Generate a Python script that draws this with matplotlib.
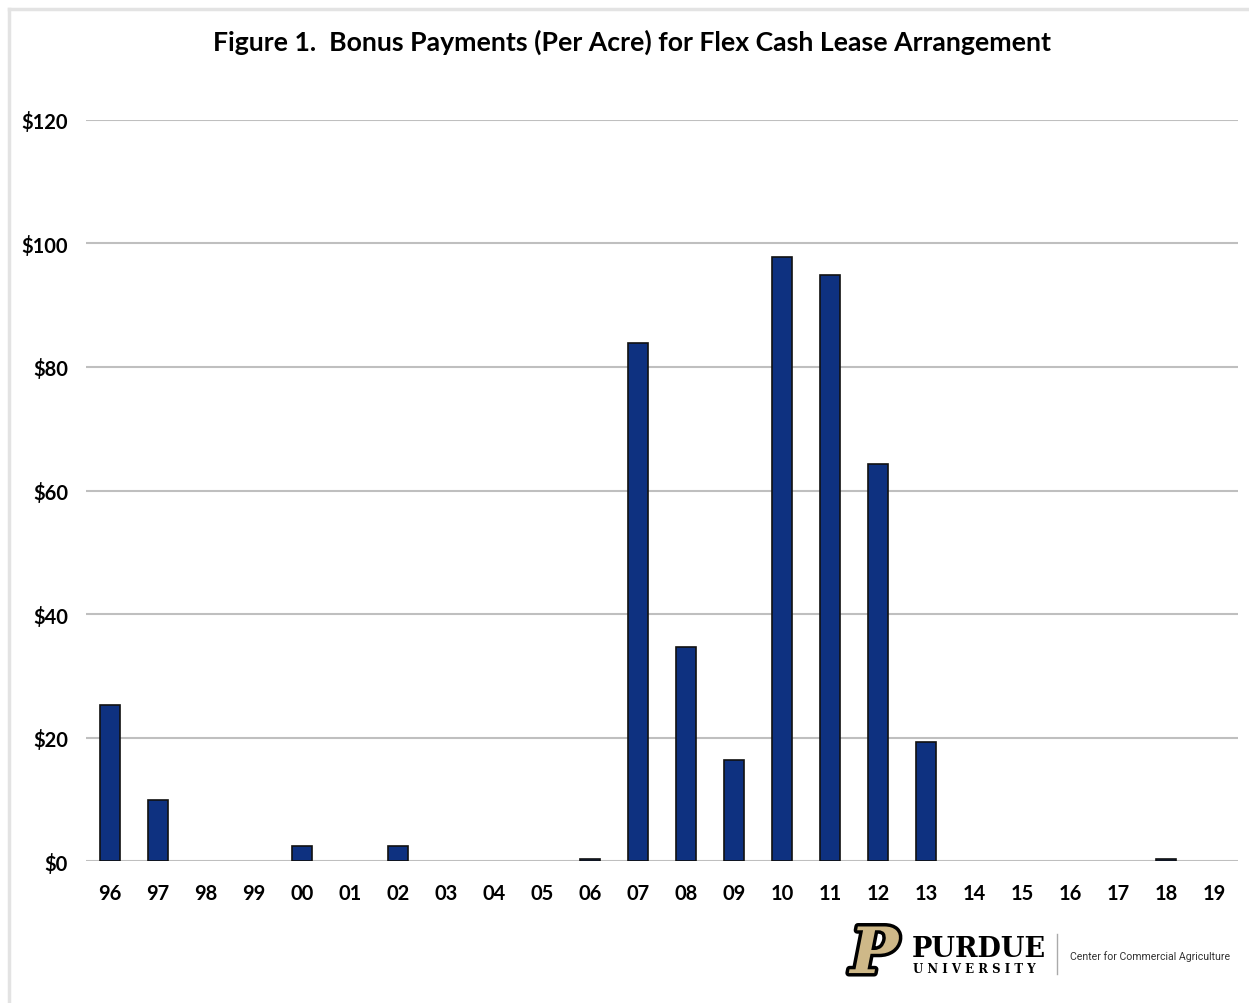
import matplotlib.pyplot as plt
import matplotlib.patheffects as pe
from matplotlib.lines import Line2D

years = ["96", "97", "98", "99", "00", "01", "02", "03", "04", "05", "06", "07",
         "08", "09", "10", "11", "12", "13", "14", "15", "16", "17", "18", "19"]
bonus = [25.3, 9.9, 0, 0, 2.4, 0, 2.4, 0, 0, 0, 0.3, 83.9,
         34.7, 16.4, 97.8, 94.9, 64.3, 19.3, 0, 0, 0, 0, 0.3, 0]
yticks = [0, 20, 40, 60, 80, 100, 120]
ytick_labels = ["$0", "$20", "$40", "$60", "$80", "$100", "$120"]

plt.rcParams['font.family'] = ['Lato', 'DejaVu Sans']

fig = plt.figure(figsize=(12.49, 10.04), dpi=100)
ax = fig.add_axes([0.0689, 0.1414, 0.9225, 0.7381])

x = list(range(len(years)))
edges = ["#111111" if v > 0 else "none" for v in bonus]
ax.bar(x, bonus, width=0.42, color="#0E3180", edgecolor=edges, linewidth=1.2, zorder=3)

ax.set_xlim(-0.5, len(years) - 0.5)
ax.set_ylim(0, 120)
ax.set_yticks(yticks)
ax.set_yticklabels(ytick_labels, fontsize=14.5, fontweight="bold")
ax.set_xticks(x)
ax.set_xticklabels(years, fontsize=14.5, fontweight="bold")
ax.tick_params(length=0)
ax.tick_params(axis="y", pad=13)
ax.tick_params(axis="x", pad=16)
ax.grid(axis="y", color="#BFBFBF", linewidth=1.5, zorder=0)
for s in ax.spines.values():
    s.set_visible(False)

fig.text(0.506, 0.958, "Figure 1.  Bonus Payments (Per Acre) for Flex Cash Lease Arrangement",
         ha="center", va="center", fontsize=19.2, fontweight="bold")

# light frame on top and left
fig.add_artist(Line2D([0.0076, 0.0076], [0, 0.990], transform=fig.transFigure,
                      color="#E3E3E3", linewidth=2.5))
fig.add_artist(Line2D([0.0076, 1.0], [0.990, 0.990], transform=fig.transFigure,
                      color="#E3E3E3", linewidth=2.5))

# Purdue logo
fig.text(0.700, 0.047, "P", fontsize=46, fontweight="bold", style="italic",
         family="DejaVu Serif", color="#CEB888", ha="center", va="center",
         path_effects=[pe.withStroke(linewidth=5, foreground="black")])
fig.text(0.730, 0.054, "PURDUE", fontsize=19.5, family="DejaVu Serif",
         fontweight="bold", color="black", va="center")
fig.text(0.731, 0.034, "U N I V E R S I T Y", fontsize=8.5, family="DejaVu Serif",
         fontweight="bold", color="black", va="center")
fig.add_artist(Line2D([0.846, 0.846], [0.029, 0.069], transform=fig.transFigure,
                      color="#AAAAAA", linewidth=1))
fig.text(0.857, 0.047, "Center for Commercial Agriculture", fontsize=7.6,
         family="Roboto", color="#333333", va="center")

fig.savefig("out.png", dpi=100)
